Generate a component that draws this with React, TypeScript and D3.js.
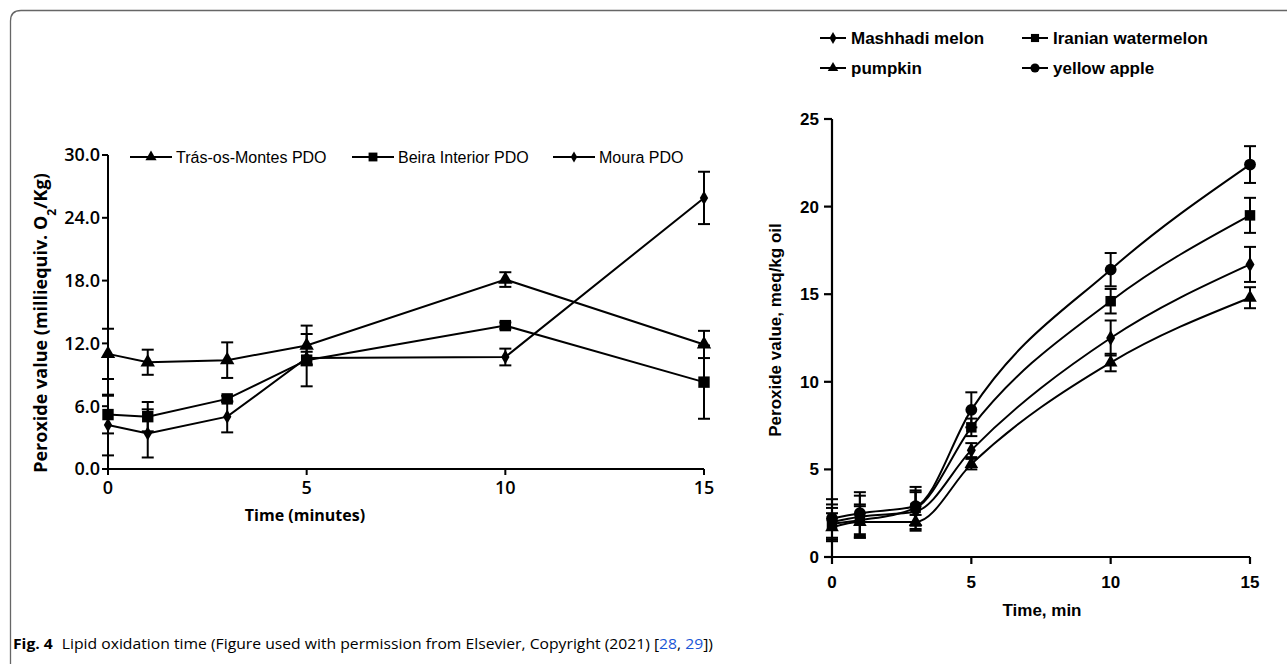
import React from "react";
import * as d3 from "d3";

// left panel: olive oil PDOs
const leftTimes = [0, 1, 3, 5, 10, 15];
const leftSeries = ["Trás-os-Montes PDO", "Beira Interior PDO", "Moura PDO"];
const trasValues = [11.0, 10.2, 10.4, 11.8, 18.1, 11.9];
const trasErr = [2.4, 1.2, 1.7, 1.9, 0.7, 1.3];
const beiraValues = [5.2, 5.0, 6.7, 10.4, 13.7, 8.3];
const beiraErr = [1.8, 1.4, 0.3, 2.5, 0.3, 3.5];
const mouraValues = [4.2, 3.4, 5.0, 10.6, 10.7, 25.9];
const mouraErr = [2.9, 2.3, 1.5, 0.6, 0.8, 2.5];
const leftYTicks = [0, 6, 12, 18, 24, 30];
const leftXTicks = [0, 5, 10, 15];

// right panel: seed oils
const rightTimes = [0, 1, 3, 5, 10, 15];
const rightSeries = ["Mashhadi melon", "Iranian watermelon", "pumpkin", "yellow apple"];
const melonValues = [2.0, 2.3, 2.6, 6.1, 12.5, 16.7];
const melonErr = [1.0, 1.2, 1.1, 0.4, 1.0, 1.0];
const watermelonValues = [1.9, 2.1, 2.8, 7.4, 14.6, 19.5];
const watermelonErr = [0.9, 0.9, 1.0, 0.5, 0.7, 1.0];
const pumpkinValues = [1.7, 2.0, 2.0, 5.3, 11.1, 14.8];
const pumpkinErr = [0.8, 0.9, 0.4, 0.3, 0.5, 0.6];
const appleValues = [2.2, 2.5, 2.9, 8.4, 16.4, 22.4];
const appleErr = [1.1, 1.2, 1.1, 1.0, 0.95, 1.05];
const rightYTicks = [0, 5, 10, 15, 20, 25];
const rightXTicks = [0, 5, 10, 15];

type Shape = "triangle" | "square" | "diamond" | "circle";

function Marker({ x, y, shape, size }: { x: number; y: number; shape: Shape; size: number }) {
  const sym =
    shape === "triangle" ? d3.symbolTriangle :
    shape === "square" ? d3.symbolSquare :
    shape === "diamond" ? d3.symbolDiamond : d3.symbolCircle;
  const d = d3.symbol().type(sym).size(size)();
  return <path d={d ?? ""} transform={`translate(${x},${y})`} fill="#000" />;
}

function ErrorBars({ xs, ys, errs, x, y, cap }: any) {
  return (
    <g stroke="#000" strokeWidth={2}>
      {xs.map((t: number, i: number) => {
        const cx = x(t);
        const top = y(ys[i] + errs[i]);
        const bot = y(ys[i] - errs[i]);
        return (
          <g key={i}>
            <line x1={cx} x2={cx} y1={top} y2={bot} />
            <line x1={cx - cap} x2={cx + cap} y1={top} y2={top} />
            <line x1={cx - cap} x2={cx + cap} y1={bot} y2={bot} />
          </g>
        );
      })}
    </g>
  );
}

function LeftChart() {
  const x = d3.scaleLinear().domain([0, 15]).range([108, 704]);
  const y = d3.scaleLinear().domain([0, 30]).range([469, 155]);
  const line = d3.line<number>().x((_, i) => x(leftTimes[i])).y((v) => y(v));
  const series = [
    { name: leftSeries[0], values: trasValues, errs: trasErr, shape: "triangle" as Shape, size: 90 },
    { name: leftSeries[1], values: beiraValues, errs: beiraErr, shape: "square" as Shape, size: 130 },
    { name: leftSeries[2], values: mouraValues, errs: mouraErr, shape: "diamond" as Shape, size: 60 },
  ];
  const legendX = [130, 352, 553];
  const font = "'Open Sans', sans-serif";
  return (
    <g>
      {series.map((s) => (
        <ErrorBars key={s.name} xs={leftTimes} ys={s.values} errs={s.errs} x={x} y={y} cap={6} />
      ))}
      {series.map((s) => (
        <g key={s.name}>
          <path d={line(s.values) ?? ""} fill="none" stroke="#000" strokeWidth={2} />
          {s.values.map((v, i) => (
            <Marker key={i} x={x(leftTimes[i])} y={y(v)} shape={s.shape} size={s.size} />
          ))}
        </g>
      ))}
      {/* axes */}
      <g stroke="#000" strokeWidth={2}>
        <line x1={x(0)} x2={x(0)} y1={y(30)} y2={y(0)} />
        <line x1={x(0)} x2={x(15)} y1={y(0)} y2={y(0)} />
        {leftYTicks.map((t) => (
          <line key={t} x1={x(0) - 6} x2={x(0)} y1={y(t)} y2={y(t)} />
        ))}
        {leftXTicks.map((t) => (
          <line key={t} x1={x(t)} x2={x(t)} y1={y(0)} y2={y(0) + 6} />
        ))}
      </g>
      <g fontFamily={font} fontWeight={600} fontSize={18} fill="#000">
        {leftYTicks.map((t) => (
          <text key={t} x={x(0) - 8} y={y(t)} dy="0.35em" textAnchor="end">
            {d3.format(".1f")(t)}
          </text>
        ))}
        {leftXTicks.map((t) => (
          <text key={t} x={x(t)} y={y(0) + 25} textAnchor="middle">
            {t}
          </text>
        ))}
      </g>
      <text x={305} y={521} textAnchor="middle" fontFamily={font} fontWeight={700} fontSize={16}>
        Time (minutes)
      </text>
      <text
        transform="translate(47,323) rotate(-90)"
        textAnchor="middle"
        fontFamily={font}
        fontWeight={700}
        fontSize={18}
      >
        Peroxide value (milliequiv. O<tspan baselineShift="sub" fontSize={12}>2</tspan>/Kg)
      </text>
      {/* legend */}
      {series.map((s, i) => (
        <g key={s.name}>
          <line x1={legendX[i]} x2={legendX[i] + 42} y1={157} y2={157} stroke="#000" strokeWidth={2} />
          <Marker x={legendX[i] + 21} y={157} shape={s.shape} size={s.size * 0.6} />
          <text x={legendX[i] + 46} y={157} dy="0.35em" fontFamily="'Liberation Sans', Arial, sans-serif" fontSize={16}>
            {s.name}
          </text>
        </g>
      ))}
    </g>
  );
}

function RightChart() {
  const x = d3.scaleLinear().domain([0, 15]).range([832, 1250]);
  const y = d3.scaleLinear().domain([0, 25]).range([557, 119]);
  const line = d3
    .line<number>()
    .x((_, i) => x(rightTimes[i]))
    .y((v) => y(v))
    .curve(d3.curveMonotoneX);
  const series = [
    { name: rightSeries[0], values: melonValues, errs: melonErr, shape: "diamond" as Shape, size: 70 },
    { name: rightSeries[1], values: watermelonValues, errs: watermelonErr, shape: "square" as Shape, size: 110 },
    { name: rightSeries[2], values: pumpkinValues, errs: pumpkinErr, shape: "triangle" as Shape, size: 80 },
    { name: rightSeries[3], values: appleValues, errs: appleErr, shape: "circle" as Shape, size: 110 },
  ];
  const legendPos = [
    [820, 38],
    [1022, 38],
    [820, 68],
    [1022, 68],
  ];
  const font = "'Liberation Sans', Arial, sans-serif";
  return (
    <g>
      {series.map((s) => (
        <ErrorBars key={s.name} xs={rightTimes} ys={s.values} errs={s.errs} x={x} y={y} cap={6} />
      ))}
      {series.map((s) => (
        <g key={s.name}>
          <path d={line(s.values) ?? ""} fill="none" stroke="#000" strokeWidth={2} />
          {s.values.map((v, i) => (
            <Marker key={i} x={x(rightTimes[i])} y={y(v)} shape={s.shape} size={s.size} />
          ))}
        </g>
      ))}
      <g stroke="#000" strokeWidth={2.2}>
        <line x1={x(0)} x2={x(0)} y1={y(25)} y2={y(0)} />
        <line x1={x(0)} x2={x(15)} y1={y(0)} y2={y(0)} />
        {rightYTicks.map((t) => (
          <line key={t} x1={x(0) - 8} x2={x(0)} y1={y(t)} y2={y(t)} />
        ))}
        {rightXTicks.map((t) => (
          <line key={t} x1={x(t)} x2={x(t)} y1={y(0)} y2={y(0) + 7} />
        ))}
      </g>
      <g fontFamily={font} fontWeight={700} fontSize={17} fill="#000">
        {rightYTicks.map((t) => (
          <text key={t} x={x(0) - 13} y={y(t)} dy="0.35em" textAnchor="end">
            {t}
          </text>
        ))}
        {rightXTicks.map((t) => (
          <text key={t} x={x(t)} y={y(0) + 31} textAnchor="middle">
            {t}
          </text>
        ))}
      </g>
      <text x={1042} y={616} textAnchor="middle" fontFamily={font} fontWeight={700} fontSize={17}>
        Time, min
      </text>
      <text
        transform="translate(781,330) rotate(-90)"
        textAnchor="middle"
        fontFamily={font}
        fontWeight={700}
        fontSize={17}
      >
        Peroxide value, meq/kg oil
      </text>
      {series.map((s, i) => (
        <g key={s.name}>
          <line x1={legendPos[i][0]} x2={legendPos[i][0] + 26} y1={legendPos[i][1]} y2={legendPos[i][1]} stroke="#000" strokeWidth={2} />
          <Marker x={legendPos[i][0] + 13} y={legendPos[i][1]} shape={s.shape} size={s.size * 0.6} />
          <text x={legendPos[i][0] + 31} y={legendPos[i][1]} dy="0.35em" fontFamily={font} fontWeight={700} fontSize={17}>
            {s.name}
          </text>
        </g>
      ))}
    </g>
  );
}

export default function App() {
  return (
    <div style={{ position: "absolute", left: 0, top: 0 }}>
      <svg width={1287} height={664} style={{ display: "block", background: "#fff" }}>
        <path
          d="M10.5,680 L10.5,21 Q10.5,10.5 21,10.5 L1300,10.5"
          fill="none"
          stroke="#666"
          strokeWidth={1.3}
        />
        <LeftChart />
        <RightChart />
        <text x={13} y={649} fontFamily="'Open Sans', sans-serif" fontSize={14} textLength={700} lengthAdjust="spacingAndGlyphs">
          <tspan fontWeight={700}>Fig. 4</tspan>
          <tspan dx={8}>Lipid oxidation time (Figure used with permission from Elsevier, Copyright (2021) [</tspan>
          <tspan fill="#1a56d6">28</tspan>
          <tspan>, </tspan>
          <tspan fill="#1a56d6">29</tspan>
          <tspan>])</tspan>
        </text>
      </svg>
    </div>
  );
}
